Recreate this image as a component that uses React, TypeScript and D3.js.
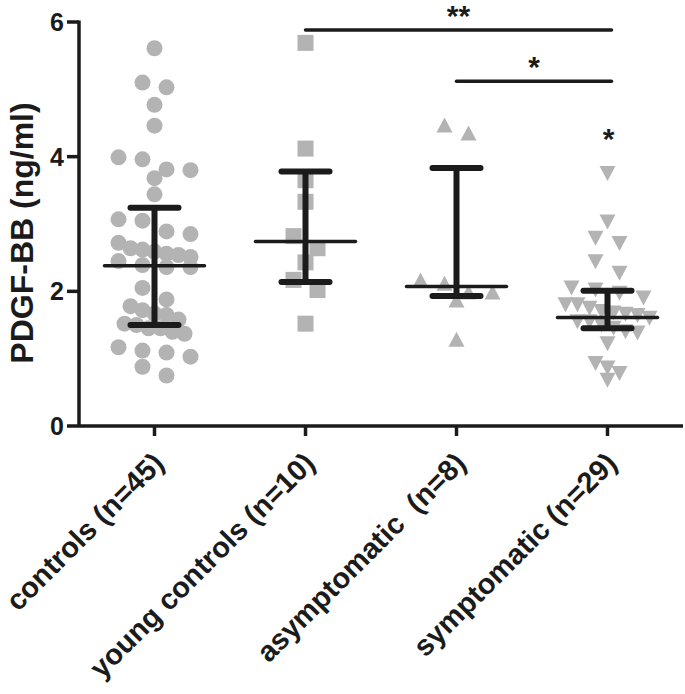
import React from "react";
import * as d3 from "d3";

const categories = ["controls (n=45)", "young controls (n=10)", "asymptomatic  (n=8)", "symptomatic (n=29)"];
const symbols = ["circle", "square", "triangleUp", "triangleDown"];

const controls = [5.61, 5.10, 5.03, 4.77, 4.46, 3.99, 3.96, 3.81, 3.80, 3.68, 3.44, 3.07, 3.05, 2.89, 2.85, 2.72, 2.64, 2.62, 2.59, 2.56, 2.54, 2.51, 2.45, 2.39, 2.36, 2.36, 2.05, 1.88, 1.78, 1.72, 1.67, 1.65, 1.58, 1.52, 1.50, 1.45, 1.45, 1.40, 1.37, 1.17, 1.12, 1.09, 1.03, 0.88, 0.75];
const youngControls = [5.69, 4.12, 3.65, 3.33, 2.82, 2.64, 2.43, 2.17, 2.02, 1.52];
const asymptomatic = [4.47, 4.35, 2.17, 2.12, 1.99, 1.99, 1.87, 1.29];
const symptomatic = [3.75, 3.03, 2.79, 2.71, 2.44, 2.27, 2.05, 2.02, 1.97, 1.90, 1.80, 1.80, 1.75, 1.70, 1.68, 1.66, 1.64, 1.60, 1.55, 1.55, 1.50, 1.45, 1.40, 1.38, 1.22, 0.93, 0.86, 0.78, 0.68];

const medians = [2.38, 2.74, 2.07, 1.61];
const q3 = [3.24, 3.78, 3.83, 2.01];
const q1 = [1.50, 2.14, 1.93, 1.45];

const yTicks = [0, 2, 4, 6];
const yTitle = "PDGF-BB (ng/ml)";

const comparisons = [
  { from: 1, to: 3, label: "**", level: 5.88 },
  { from: 2, to: 3, label: "*", level: 5.12 },
];
const singleMark = { group: 3, label: "*" };

const groups = [controls, youngControls, asymptomatic, symptomatic];

const FONT = "'Liberation Sans', Arial, Helvetica, sans-serif";
const INK = "#1b1b1b";
const GREY = "#b3b3b3";

function swarm(values: number[], yScale: (v: number) => number) {
  const idx = values.map((v, i) => i).sort((a, b) => values[b] - values[a]);
  const rows: number[][] = [];
  const bin = 15;
  for (const i of idx) {
    const last = rows[rows.length - 1];
    if (last && yScale(values[i]) - yScale(values[last[0]]) <= bin) last.push(i);
    else rows.push([i]);
  }
  const off = new Array(values.length).fill(0);
  for (const r of rows) {
    const n = r.length;
    const sp = n % 2 === 0 && n <= 4 ? 24 : 12;
    r.forEach((i, k) => {
      off[i] = (k - (n - 1) / 2) * sp;
    });
  }
  return off;
}

export default function App() {
  const W = 685, H = 694;
  const y = d3.scaleLinear().domain([0, 6]).range([426, 22]);
  const x = d3.scaleBand().domain(categories).range([79, 683]).padding(0);
  const cx = (i: number) => (x(categories[i]) as number) + x.bandwidth() / 2;

  const marker = (kind: string, px: number, py: number, key: string) => {
    if (kind === "circle") return <circle key={key} cx={px} cy={py} r={8} fill={GREY} />;
    if (kind === "square") return <rect key={key} x={px - 8} y={py - 8} width={16} height={16} fill={GREY} />;
    const h = 15, w = 16;
    if (kind === "triangleUp")
      return <path key={key} d={`M${px},${py - h / 2}L${px + w / 2},${py + h / 2}L${px - w / 2},${py + h / 2}Z`} fill={GREY} />;
    return <path key={key} d={`M${px},${py + h / 2}L${px + w / 2},${py - h / 2}L${px - w / 2},${py - h / 2}Z`} fill={GREY} />;
  };

  return (
    <svg width={W} height={H} style={{ position: "absolute", left: 0, top: 0, background: "#fff" }} fontFamily={FONT}>
      <rect width={W} height={H} fill="#fff" />
      {groups.map((vals, gi) => {
        const off = swarm(vals, y);
        return (
          <g key={"g" + gi}>
            {vals.map((v, i) => marker(symbols[gi], cx(gi) + off[i], y(v), gi + "-" + i))}
          </g>
        );
      })}
      {categories.map((c, gi) => (
        <g key={"eb" + gi} stroke={INK} fill="none">
          <line x1={cx(gi)} x2={cx(gi)} y1={y(q1[gi])} y2={y(q3[gi])} strokeWidth={6} />
          <line x1={cx(gi) - 24} x2={cx(gi) + 24} y1={y(q3[gi])} y2={y(q3[gi])} strokeWidth={6} strokeLinecap="round" />
          <line x1={cx(gi) - 24} x2={cx(gi) + 24} y1={y(q1[gi])} y2={y(q1[gi])} strokeWidth={6} strokeLinecap="round" />
          <line x1={cx(gi) - 50} x2={cx(gi) + 50} y1={y(medians[gi])} y2={y(medians[gi])} strokeWidth={3.5} strokeLinecap="round" />
        </g>
      ))}
      <g stroke={INK} strokeWidth={3.5} fill="none">
        <line x1={79} x2={79} y1={y(6) - 1.5} y2={y(0)} />
        <line x1={79} x2={683} y1={y(0)} y2={y(0)} />
        {yTicks.map((t) => (
          <line key={"yt" + t} x1={67} x2={79} y1={y(t)} y2={y(t)} />
        ))}
        {categories.map((c, gi) => (
          <line key={"xt" + gi} x1={cx(gi)} x2={cx(gi)} y1={y(0)} y2={y(0) + 10} />
        ))}
      </g>
      {yTicks.map((t) => (
        <text key={"yl" + t} x={64} y={y(t)} dy="0.36em" textAnchor="end" fontSize={25} fontWeight="bold" fill={INK}>
          {t}
        </text>
      ))}
      <text transform="translate(33,233) rotate(-90)" textAnchor="middle" fontSize={32} fontWeight="bold" fill={INK}>
        {yTitle}
      </text>
      {categories.map((c, gi) => (
        <text
          key={"xl" + gi}
          transform={`translate(${cx(gi) + 11},${465}) rotate(-45)`}
          textAnchor="end"
          fontSize={29}
          fontWeight="bold"
          fill={INK}
          style={{ whiteSpace: "pre" }}
        >
          {c}
        </text>
      ))}
      {comparisons.map((cmp, k) => (
        <g key={"cmp" + k}>
          <line x1={cx(cmp.from)} x2={cx(cmp.to) + 4} y1={y(cmp.level)} y2={y(cmp.level)} stroke={INK} strokeWidth={3.5} strokeLinecap="round" />
          <text x={(cx(cmp.from) + cx(cmp.to) + 4) / 2} y={y(cmp.level) - 4} textAnchor="middle" fontSize={30} fontWeight="bold" fill={INK}>
            {cmp.label}
          </text>
        </g>
      ))}
      <text x={cx(singleMark.group) + 1} y={y(d3.max(groups[singleMark.group]) as number) - 25} textAnchor="middle" fontSize={30} fontWeight="bold" fill={INK}>
        {singleMark.label}
      </text>
    </svg>
  );
}
